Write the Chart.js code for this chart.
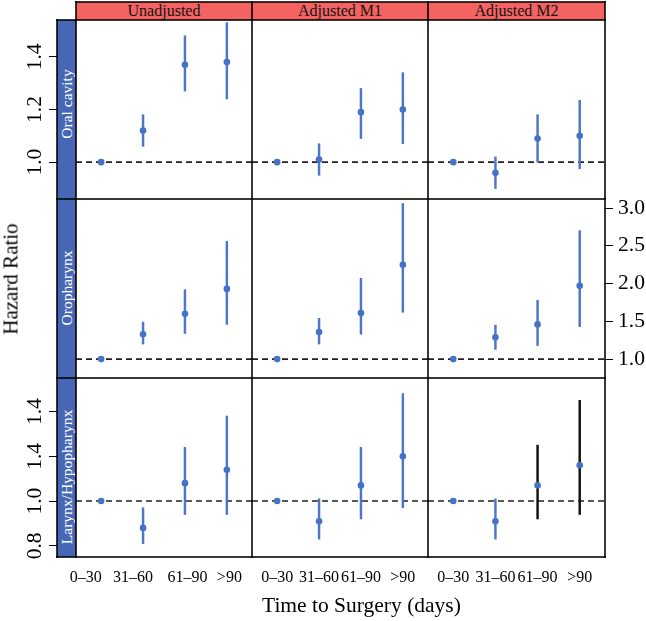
<!DOCTYPE html>
<html>
<head>
<meta charset="utf-8">
<script src="https://cdn.jsdelivr.net/npm/chart.js@4.4.0/dist/chart.umd.min.js"></script>
<style>
  html, body { margin: 0; padding: 0; background: #fff; }
  #wrap { position: relative; width: 646px; height: 621px; overflow: hidden;
          font-family: 'Liberation Serif', 'Times New Roman', serif; }
  #wrap canvas { position: absolute; left: 0; top: 0; }
  .ln { position: absolute; background: rgba(0, 0, 0, 0.78); }
  .head { position: absolute; background: #F46262; color: #151515; font-size: 16px;
          text-align: center; }
  .side { position: absolute; background: #4767B6; }
  .rot { position: absolute; white-space: nowrap; transform: translate(-50%, -50%) rotate(-90deg); }
</style>
</head>
<body>
<div id="wrap"></div>
<script>
const categories = ['0–30', '31–60', '61–90', '>90'];
const models = ['Unadjusted', 'Adjusted M1', 'Adjusted M2'];
const sites = ['Oral cavity', 'Oropharynx', 'Larynx/Hypopharynx'];
const xPos = [1, 2, 3, 4];

// hazard ratio + 95% CI, one inner array per model (Unadjusted, M1, M2)
const oralHR = [[1.00, 1.12, 1.37, 1.38], [1.00, 1.01, 1.19, 1.20], [1.00, 0.96, 1.09, 1.10]];
const oralLo = [[1.00, 1.06, 1.27, 1.24], [1.00, 0.95, 1.09, 1.07], [1.00, 0.90, 1.00, 0.975]];
const oralHi = [[1.00, 1.18, 1.48, 1.53], [1.00, 1.07, 1.28, 1.34], [1.00, 1.02, 1.18, 1.235]];

const oroHR = [[1.00, 1.33, 1.60, 1.93], [1.00, 1.36, 1.61, 2.25], [1.00, 1.29, 1.46, 1.97]];
const oroLo = [[1.00, 1.20, 1.34, 1.46], [1.00, 1.20, 1.33, 1.62], [1.00, 1.13, 1.18, 1.43]];
const oroHi = [[1.00, 1.49, 1.92, 2.56], [1.00, 1.54, 2.07, 3.06], [1.00, 1.45, 1.78, 2.70]];

const larHR = [[1.00, 0.88, 1.08, 1.14], [1.00, 0.91, 1.07, 1.20], [1.00, 0.91, 1.07, 1.16]];
const larLo = [[1.00, 0.81, 0.94, 0.94], [1.00, 0.83, 0.92, 0.97], [1.00, 0.83, 0.92, 0.94]];
const larHi = [[1.00, 0.97, 1.24, 1.38], [1.00, 1.01, 1.24, 1.48], [1.00, 1.01, 1.25, 1.45]];

const oralTicks = [1.0, 1.2, 1.4];
const oralTickLabels = ['1.0', '1.2', '1.4'];
const oroTicks = [1.0, 1.5, 2.0, 2.5, 3.0];
const oroTickLabels = ['1.0', '1.5', '2.0', '2.5', '3.0'];
const larTicks = [0.8, 1.0, 1.2, 1.4];
const larTickLabels = ['0.8', '1.0', '1.4', '1.4'];

const yMin = [0.86, 0.75, 0.75];
const yMax = [1.54, 3.12, 1.55];
// where the bottom category labels sit under each column
const xTickPos = [[0.63, 1.76, 3.06, 4.06], [1, 2, 3, 4], [1, 2, 3, 4]];

const hrs = [oralHR, oroHR, larHR];
const los = [oralLo, oroLo, larLo];
const his = [oralHi, oroHi, larHi];
const yTicks = [oralTicks, oroTicks, larTicks];
const yTickLabels = [oralTickLabels, oroTickLabels, larTickLabels];

const W = 646, H = 621;
const colX = [76, 252, 428, 605];
const rowY = [20, 199, 378, 557];
const BLUE = '#4472C4';
const CI_BLUE = '#4D76C8';
const wrap = document.getElementById('wrap');

Chart.defaults.font.family = "'Liberation Serif', 'Times New Roman', serif";
Chart.defaults.color = '#000';

function makePanel(r, c) {
  const cv = document.createElement('canvas');
  cv.width = W;
  cv.height = H;
  wrap.appendChild(cv);

  const leftAxis = c === 0 && r !== 1;
  const rightAxis = c === 2 && r === 1;
  const bottomAxis = r === 2;
  const hr = hrs[r][c], lo = los[r][c], hi = his[r][c];
  const ciColors = xPos.map((_, i) => (r === 2 && c === 2 && i >= 2) ? '#111' : CI_BLUE);

  new Chart(cv, {
    type: 'line',
    data: {
      datasets: [
        {
          data: [{ x: 0.4, y: 1 }, { x: 4.6, y: 1 }],
          borderColor: '#222', borderWidth: 1.6, borderDash: [6, 4],
          pointRadius: 0, order: 3
        },
        {
          type: 'bar',
          data: xPos.map((x, i) => ({ x: x, y: [lo[i], hi[i]] })),
          backgroundColor: ciColors, barThickness: 1.8, order: 2
        },
        {
          data: xPos.map((x, i) => ({ x: x, y: hr[i] })),
          showLine: false, pointRadius: 3.3, pointBorderWidth: 0,
          pointBackgroundColor: BLUE, order: 1
        }
      ]
    },
    options: {
      responsive: false,
      animation: false,
      devicePixelRatio: 1,
      events: [],
      layout: {
        autoPadding: false,
        padding: {
          left: leftAxis ? 20 : colX[c],
          right: rightAxis ? 0 : W - colX[c + 1],
          top: rowY[r],
          bottom: bottomAxis ? H - rowY[r + 1] - 40 : H - rowY[r + 1]
        }
      },
      plugins: { legend: { display: false }, tooltip: { enabled: false } },
      scales: {
        x: {
          type: 'linear', min: 0.4, max: 4.6, offset: false,
          display: bottomAxis,
          afterBuildTicks: s => { s.ticks = xTickPos[c].map(v => ({ value: v })); },
          afterFit: s => { s.height = bottomAxis ? 40 : 0; },
          ticks: {
            callback: (v, i) => categories[i],
            autoSkip: false, maxRotation: 0, padding: 11,
            font: { size: 16 }
          },
          grid: { display: false, drawTicks: false, offset: false },
          border: { display: false }
        },
        y: {
          type: 'linear', min: yMin[r], max: yMax[r],
          display: leftAxis || rightAxis,
          position: rightAxis ? 'right' : 'left',
          afterBuildTicks: s => { s.ticks = yTicks[r].map(v => ({ value: v })); },
          afterFit: s => { s.width = leftAxis ? 56 : (rightAxis ? 41 : 0); },
          ticks: {
            callback: (v, i) => yTickLabels[r][i],
            autoSkip: false,
            minRotation: leftAxis ? 90 : 0, maxRotation: leftAxis ? 90 : 0,
            crossAlign: leftAxis ? 'center' : 'near',
            padding: leftAxis ? 0 : 5,
            font: { size: 21.5 }
          },
          grid: { drawOnChartArea: false, drawTicks: true, tickLength: leftAxis ? 27 : 8,
                  color: '#000', lineWidth: 1 },
          border: { display: false }
        }
      }
    }
  });
}

for (let r = 0; r < 3; r++) {
  for (let c = 0; c < 3; c++) makePanel(r, c);
}

function div(cls, css, text) {
  const d = document.createElement('div');
  d.className = cls;
  Object.assign(d.style, css);
  if (text) d.textContent = text;
  wrap.appendChild(d);
  return d;
}

// strips
models.forEach((m, c) => {
  div('head', { left: colX[c] + 'px', top: '2px', width: (colX[c + 1] - colX[c]) + 'px',
                height: '18px', lineHeight: '18px' }, m);
});
const sideCenter = [104, 288, 477];
sites.forEach((s, r) => {
  div('side', { left: '57px', top: rowY[r] + 'px', width: '19px', height: (rowY[r + 1] - rowY[r]) + 'px' });
  div('rot', { left: '67px', top: sideCenter[r] + 'px', color: '#fff', fontSize: '15.5px' }, s);
});

// frame lines, ~1.5px dark
div('ln', { left: '75px', top: '1px', width: '531px', height: '2px' });
rowY.forEach(y => div('ln', { left: '56px', top: (y - 1) + 'px', width: '550px', height: '2px' }));
colX.forEach(x => div('ln', { left: (x - 1) + 'px', top: '1px', width: '2px', height: '557px' }));
div('ln', { left: '56px', top: '19px', width: '2px', height: '539px' });

// axis titles
div('rot', { left: '11px', top: '279px', fontSize: '21px', color: '#000' }, 'Hazard Ratio');
div('', { position: 'absolute', left: '262px', top: '593px', fontSize: '21.5px', color: '#000',
          whiteSpace: 'nowrap' }, 'Time to Surgery (days)');
</script>
</body>
</html>
